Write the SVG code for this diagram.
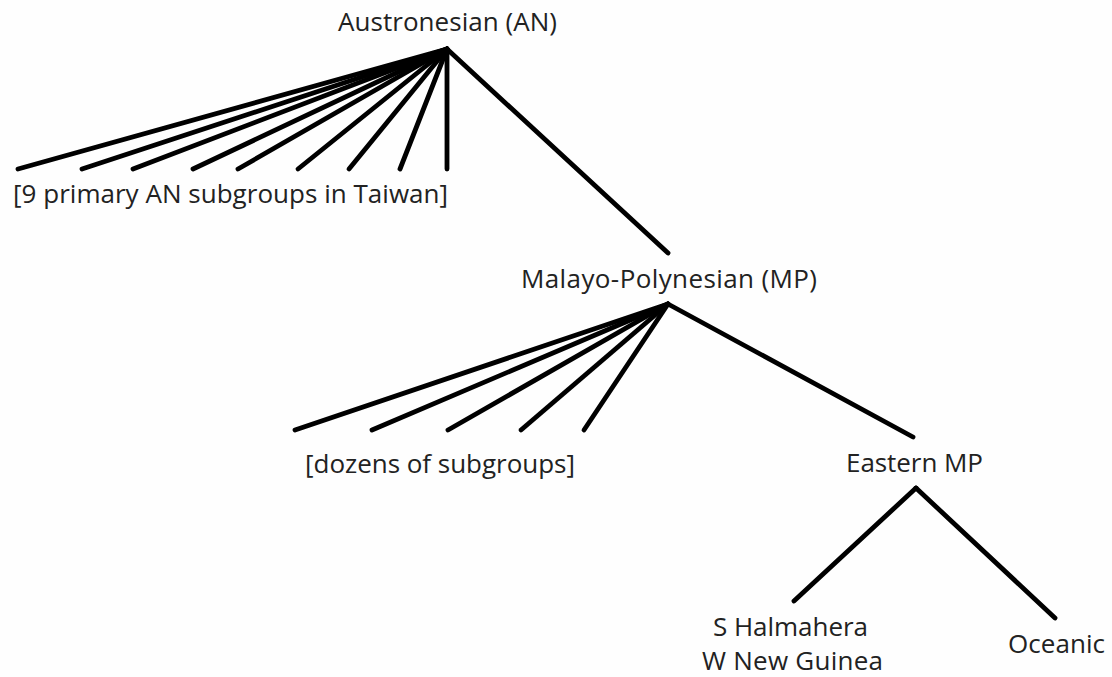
<svg xmlns="http://www.w3.org/2000/svg" width="1112" height="677" viewBox="0 0 1112 677">
<style>
.lbl{font-family:"Open Sans","Liberation Sans",sans-serif;font-size:26px;fill:#222;text-anchor:middle}
.edge{stroke:#000;stroke-width:4.8;stroke-linecap:round;fill:none}
</style>
<rect width="1112" height="677" fill="#fefefe"/>
<g id="connectors">
<line class="edge" x1="447" y1="49" x2="18" y2="169"/>
<line class="edge" x1="447" y1="49" x2="82" y2="169"/>
<line class="edge" x1="447" y1="49" x2="133" y2="169"/>
<line class="edge" x1="447" y1="49" x2="193" y2="169"/>
<line class="edge" x1="447" y1="49" x2="238" y2="169"/>
<line class="edge" x1="447" y1="49" x2="298" y2="169"/>
<line class="edge" x1="447" y1="49" x2="349" y2="169"/>
<line class="edge" x1="447" y1="49" x2="400" y2="169"/>
<line class="edge" x1="447" y1="49" x2="447" y2="169"/>
<line class="edge" x1="447" y1="49" x2="668" y2="253"/>
<line class="edge" x1="668" y1="304" x2="295" y2="430"/>
<line class="edge" x1="668" y1="304" x2="372" y2="430"/>
<line class="edge" x1="668" y1="304" x2="448" y2="430"/>
<line class="edge" x1="668" y1="304" x2="521" y2="430"/>
<line class="edge" x1="668" y1="304" x2="584" y2="430"/>
<line class="edge" x1="668" y1="304" x2="913" y2="437"/>
<line class="edge" x1="916" y1="488" x2="794" y2="601"/>
<line class="edge" x1="916" y1="488" x2="1055" y2="618"/>
</g>
<g id="node-an"><text class="lbl" x="447.5" y="31" textLength="219">Austronesian (AN)</text></g>
<g id="node-taiwan"><text class="lbl" x="230.5" y="203" textLength="435">[9 primary AN subgroups in Taiwan]</text></g>
<g id="node-mp"><text class="lbl" x="669" y="288" textLength="296">Malayo-Polynesian (MP)</text></g>
<g id="node-dozens"><text class="lbl" x="440" y="473" textLength="270">[dozens of subgroups]</text></g>
<g id="node-emp"><text class="lbl" x="914.5" y="472" textLength="137">Eastern MP</text></g>
<g id="node-shwng"><text class="lbl" x="790.5" y="636" textLength="155">S Halmahera</text><text class="lbl" x="792.5" y="670" textLength="181">W New Guinea</text></g>
<g id="node-oceanic"><text class="lbl" x="1056.5" y="653" textLength="97">Oceanic</text></g>
</svg>
